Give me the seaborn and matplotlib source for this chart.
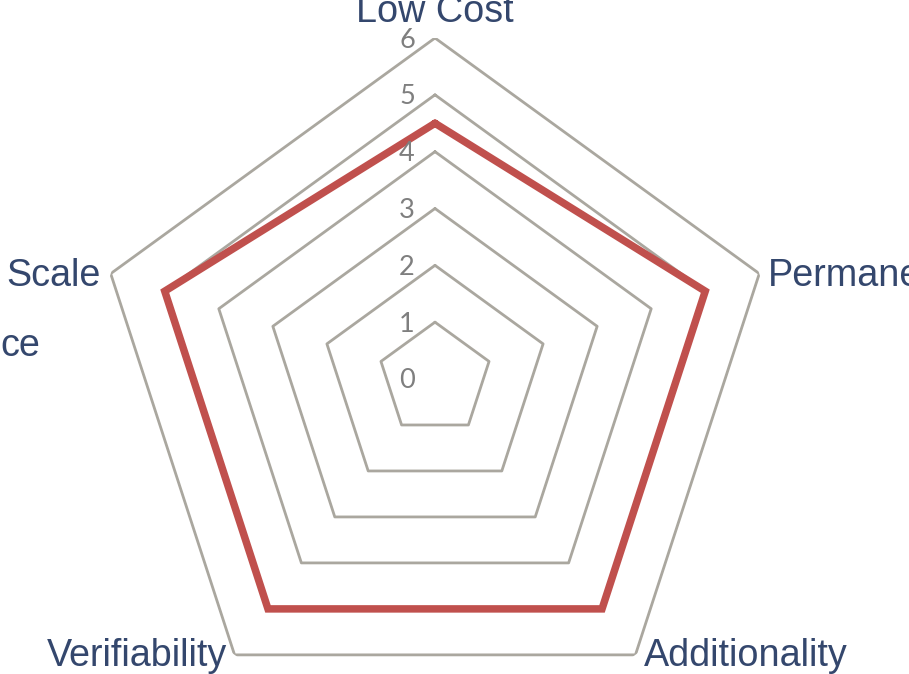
import numpy as np
import pandas as pd
import matplotlib
matplotlib.use("Agg")
import matplotlib.pyplot as plt
import seaborn as sns

# ---- data ----
categories = ["Low Cost", "Permanence", "Additionality", "Verifiability", "Scale"]
scores = [4.5, 5, 5, 5, 5]
grid_levels = [1, 2, 3, 4, 5, 6]
tick_labels = ["0", "1", "2", "3", "4", "5", "6"]
stray_label = "ce"

sns.set_theme(style="white")
plt.rcParams["font.family"] = ["Liberation Sans", "DejaVu Sans"]

W, H, DPI = 909, 674, 100
fig = plt.figure(figsize=(W / DPI, H / DPI), dpi=DPI)
fig.patch.set_facecolor("white")

cx, cy, R = 435, 379, 341  # pixels (cy from top)
ax = fig.add_axes([(cx - R) / W, (H - cy - R) / H, 2 * R / W, 2 * R / H],
                  projection="polar")
ax.set_theta_zero_location("N")
ax.set_theta_direction(-1)
ax.set_ylim(0, 6)
ax.grid(False)
ax.spines["polar"].set_visible(False)
ax.set_facecolor("none")

n = len(categories)
theta = np.linspace(0, 2 * np.pi, n, endpoint=False)
theta_closed = np.append(theta, theta[0])

grid_color = "#aaa79f"
for lv in grid_levels:
    df = pd.DataFrame({"theta": theta_closed, "r": [lv] * (n + 1)})
    sns.lineplot(data=df, x="theta", y="r", sort=False, estimator=None,
                 ax=ax, color=grid_color, linewidth=2.0, legend=False)

df_s = pd.DataFrame({"theta": theta_closed, "r": scores + [scores[0]]})
sns.lineplot(data=df_s, x="theta", y="r", sort=False, estimator=None, ax=ax,
             color="#c0504d", linewidth=5.4, legend=False)
ax.lines[-1].set_solid_joinstyle("miter")
ax.set_xlabel("")
ax.set_ylabel("")
ax.set_xticks([])
ax.set_yticks([])

# radial tick labels
for i, t in enumerate(tick_labels):
    ax.annotate(t, xy=(0, i), xytext=(-28, -2), textcoords="offset pixels",
                ha="center", va="center", fontsize=19.5, color="#7f7f7f",
                family=["Lato", "DejaVu Sans"], annotation_clip=False)

# category labels
lab_color = "#34476d"
fs = 27.2
offsets = [(0, 16, "center", "baseline"),
           (9, -2, "left", "center"),
           (8, -1, "left", "center"),
           (-7, -1, "right", "center"),
           (-10, -2, "right", "center")]
for th, lab, (dx, dy, ha, va) in zip(theta, categories, offsets):
    ax.annotate(lab, xy=(th, 6), xytext=(dx, dy), textcoords="offset pixels",
                ha=ha, va=va, fontsize=fs, color=lab_color,
                annotation_clip=False)

fig.text(0 / W, 1 - 346 / H, stray_label, ha="left", va="center",
         fontsize=fs, color=lab_color)

fig.savefig("out.png", dpi=DPI, facecolor="white")
